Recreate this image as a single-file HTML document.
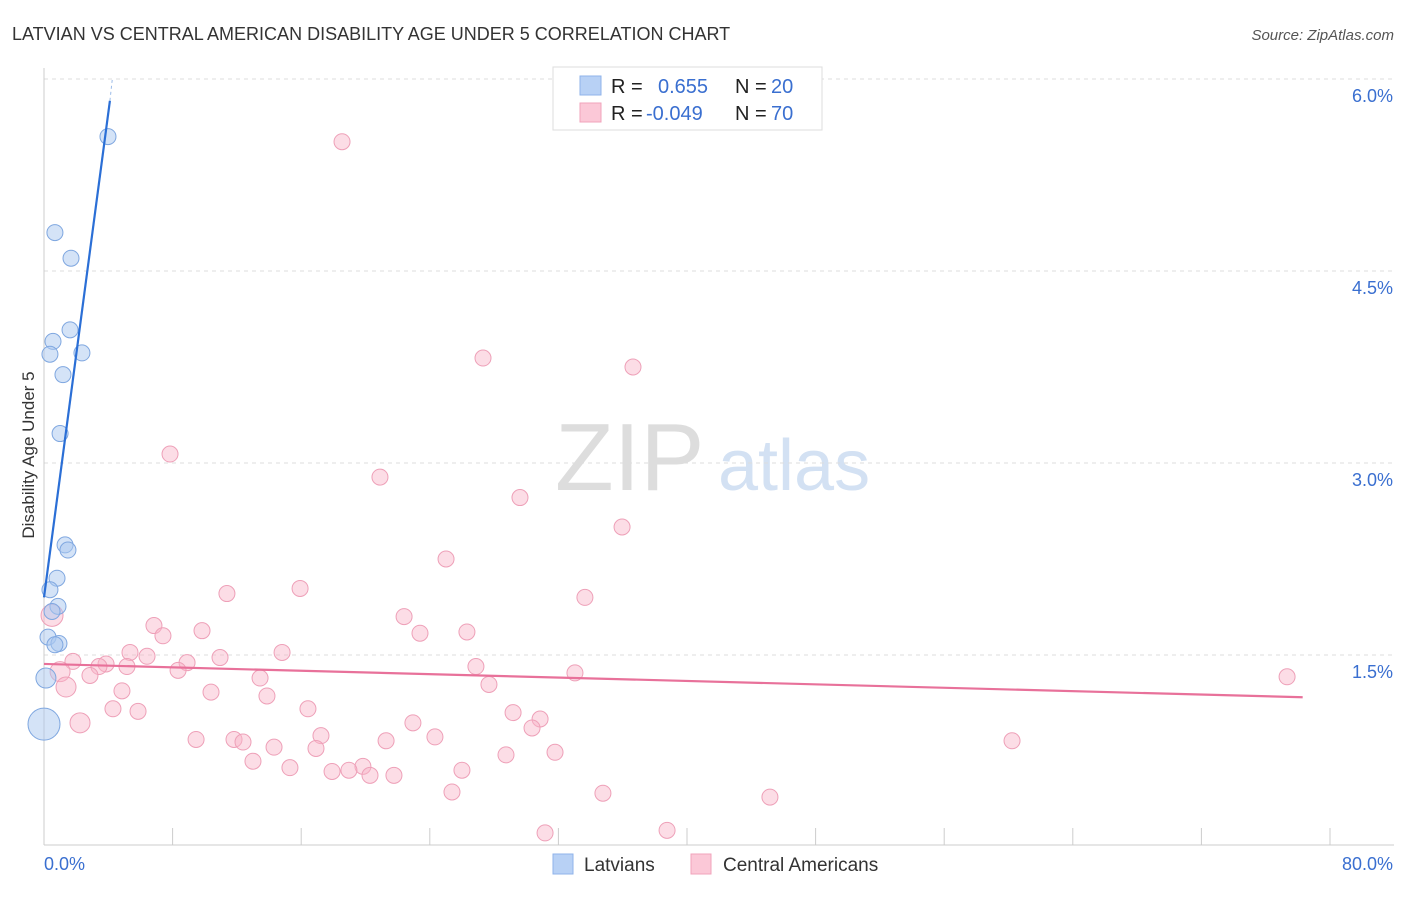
<!DOCTYPE html>
<html><head><meta charset="utf-8"><style>
body{margin:0;background:#fff;font-family:"Liberation Sans",sans-serif}
svg text{font-family:"Liberation Sans",sans-serif}
</style></head><body>
<svg id="c" width="1406" height="892" xmlns="http://www.w3.org/2000/svg">
<text x="12" y="40" font-size="18" fill="#333">LATVIAN VS CENTRAL AMERICAN DISABILITY AGE UNDER 5 CORRELATION CHART</text>
<text x="1394" y="40" font-size="15" fill="#555" font-style="italic" text-anchor="end">Source: ZipAtlas.com</text>
<text x="34" y="455" font-size="17" fill="#333" text-anchor="middle" transform="rotate(-90 34 455)">Disability Age Under 5</text>
<text x="555" y="490" font-size="96" fill="#ddd" font-family="Liberation Serif">ZIP</text>
<text x="718" y="490" font-size="72" fill="#d3e1f3">atlas</text>
<g id="grid"></g><g id="axes"></g><g id="pink"></g><g id="blue"></g><g id="lines"></g>
<g>
<rect x="553" y="67" width="269" height="63" fill="#fff" stroke="#ddd"/>
<rect x="580" y="76" width="21" height="19" fill="#b8d1f5" stroke="#8fb3ea"/>
<rect x="580" y="103" width="21" height="19" fill="#fbc8d7" stroke="#f0a3bb"/>
<text x="611" y="93" font-size="20" fill="#222">R =</text><text x="658" y="93" font-size="20" fill="#3a6fd0">0.655</text>
<text x="735" y="93" font-size="20" fill="#222">N =</text><text x="771" y="93" font-size="20" fill="#3a6fd0">20</text>
<text x="611" y="120" font-size="20" fill="#222">R =</text><text x="646" y="120" font-size="20" fill="#3a6fd0">-0.049</text>
<text x="735" y="120" font-size="20" fill="#222">N =</text><text x="771" y="120" font-size="20" fill="#3a6fd0">70</text>
</g>
<g>
<rect x="553" y="854" width="20" height="20" fill="#b8d1f5" stroke="#8fb3ea"/>
<text x="584" y="871" font-size="19" fill="#333">Latvians</text>
<rect x="691" y="854" width="20" height="20" fill="#fbc8d7" stroke="#f0a3bb"/>
<text x="723" y="871" font-size="19" fill="#333">Central Americans</text>
</g>
</svg>
<script>
const yTicks=[1.5,3.0,4.5,6.0];
const yTickLabels=["1.5%","3.0%","4.5%","6.0%"];
const xTickLabels=["0.0%","80.0%"];
const blueX=[3.98,0.68,1.68,1.62,0.56,0.37,2.36,1.18,1.0,1.31,1.49,0.81,0.37,0.87,0.5,0.25,0.93,0.68,0.12,0.0];
const blueY=[5.55,4.80,4.60,4.04,3.95,3.85,3.86,3.69,3.23,2.36,2.32,2.10,2.01,1.88,1.84,1.64,1.59,1.58,1.32,0.96];
const blueR=[8,8,8,8,8,8,8,8,8,8,8,8,8,8,8,8,8,8,10,16];
const pinkPx=[[342,142],[483,358],[633,367],[170,454],[380,477],[520,497],[622,527],[446,559],[585,598],[300,588],[227,593],[404,617],[154,626],[163,636],[202,631],[420,633],[467,632],[52,615],[130,653],[147,656],[282,653],[220,657],[187,663],[178,670],[106,664],[127,666],[99,667],[73,661],[60,672],[90,676],[476,666],[575,673],[260,678],[489,684],[66,687],[1287,677],[122,691],[211,692],[267,696],[113,709],[138,711],[308,709],[513,713],[540,719],[80,723],[413,723],[532,728],[196,739],[234,739],[243,742],[321,736],[435,737],[386,741],[1012,741],[274,747],[316,748],[555,752],[506,755],[253,761],[363,766],[290,768],[332,771],[349,770],[462,770],[370,775],[394,775],[452,792],[603,793],[770,797],[667,830],[545,833]];
const pinkX=pinkPx.map(p=>+((p[0]-44)/16.075).toFixed(2));
const pinkY=pinkPx.map(p=>+((847-p[1])/128).toFixed(2));
const pinkR=pinkX.map((v,i)=>i==17?11:(i==28||i==34||i==44?10:8));
const blueLine=[[0,1.95],[4.1,5.83]];
const pinkLine=[[0,1.43],[78.3,1.17]];
function X(v){return 44+v*16.075}
function Y(v){return 847-v*128}
const NS="http://www.w3.org/2000/svg";
function mk(t,a,p){const e=document.createElementNS(NS,t);for(const k in a)e.setAttribute(k,a[k]);document.getElementById(p).appendChild(e);return e}
yTicks.forEach((t,i)=>{
 const l=mk('line',{x1:44,x2:1394,y1:Y(t),y2:Y(t),stroke:'#ddd','stroke-dasharray':'4 4'},'grid');
 
 const tx=mk('text',{x:1393,y:Y(t)+23,'font-size':18,fill:'#3a6fd0','text-anchor':'end'},'grid');
 tx.textContent=yTickLabels[i];
 
});
const ax=mk('line',{x1:44,x2:44,y1:68,y2:845,stroke:'#ccc'},'axes');

const bx=mk('line',{x1:44,x2:1394,y1:845,y2:845,stroke:'#ccc'},'axes');

for(let i=0;i<=10;i++){const t=mk('line',{x1:X(i*8),x2:X(i*8),y1:828,y2:845,stroke:'#ccc'},'axes');
 }
const x0=mk('text',{x:44,y:870,'font-size':18,fill:'#3a6fd0'},'axes');x0.textContent=xTickLabels[0];

const x1=mk('text',{x:1393,y:870,'font-size':18,fill:'#3a6fd0','text-anchor':'end'},'axes');x1.textContent=xTickLabels[1];

pinkX.forEach((v,i)=>{const c=mk('circle',{cx:X(v),cy:Y(pinkY[i]),r:pinkR[i],fill:'rgba(248,180,200,0.45)',stroke:'#eea0b8','stroke-width':1},'pink');
 });
blueX.forEach((v,i)=>{const c=mk('circle',{cx:X(v),cy:Y(blueY[i]),r:blueR[i],fill:'rgba(170,200,240,0.5)',stroke:'#7fa7e0','stroke-width':1},'blue');
 });
const bl=mk('line',{x1:X(blueLine[0][0]),y1:Y(blueLine[0][1]),x2:X(blueLine[1][0]),y2:Y(blueLine[1][1]),stroke:'#2b6fd6','stroke-width':2.2},'lines');

const bd=mk('line',{x1:X(blueLine[1][0]),y1:Y(blueLine[1][1]),x2:X(4.25),y2:Y(6.0),stroke:'#9bbbe8','stroke-width':1,'stroke-dasharray':'3 3'},'lines');

const pl=mk('line',{x1:X(pinkLine[0][0]),y1:Y(pinkLine[0][1]),x2:X(pinkLine[1][0]),y2:Y(pinkLine[1][1]),stroke:'#e8719a','stroke-width':2.2},'lines');

</script>
</body></html>
